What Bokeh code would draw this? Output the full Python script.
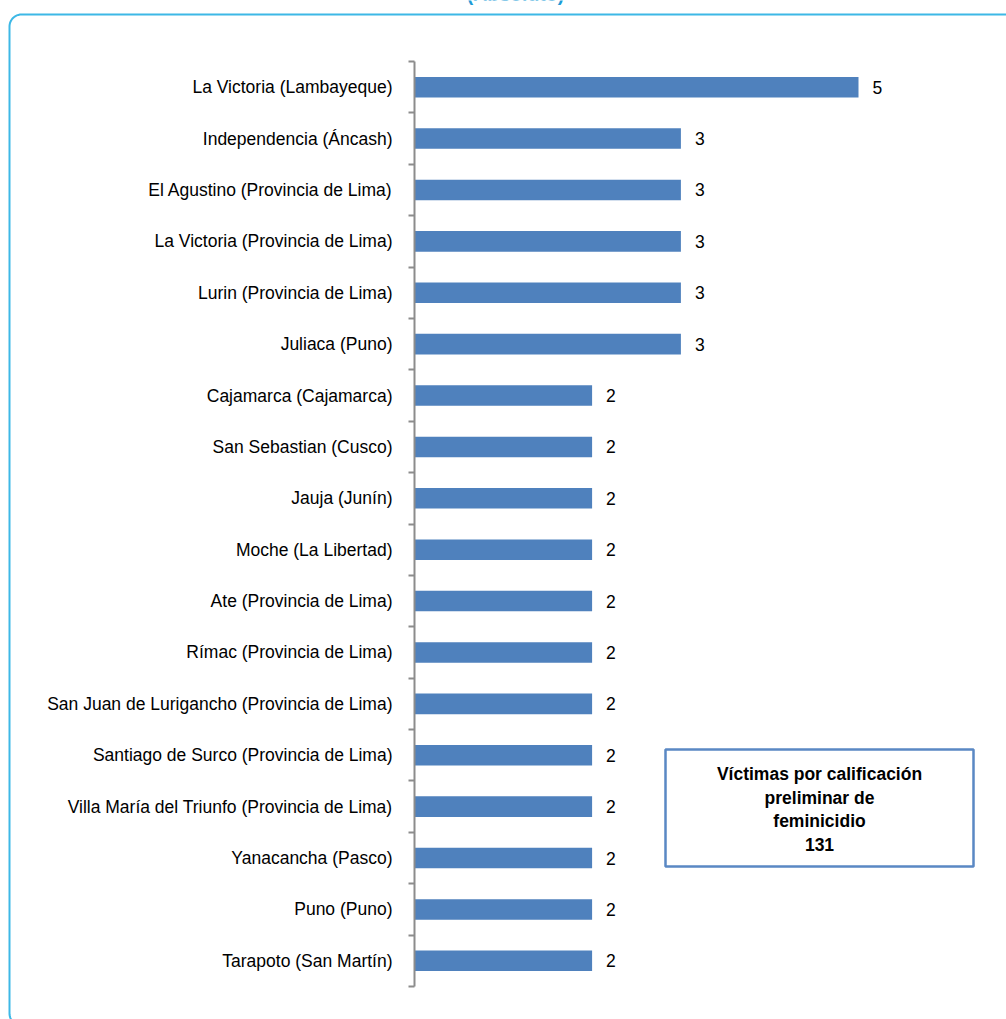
import math
from bokeh.plotting import figure
from bokeh.models import Range1d, LinearAxis, FixedTicker, BoxAnnotation, Label, ColumnDataSource
from bokeh.core.properties import value
from bokeh.embed import file_html
from bokeh.resources import INLINE

categories = [
    "La Victoria (Lambayeque)",
    "Independencia (Áncash)",
    "El Agustino (Provincia de Lima)",
    "La Victoria (Provincia de Lima)",
    "Lurin (Provincia de Lima)",
    "Juliaca (Puno)",
    "Cajamarca (Cajamarca)",
    "San Sebastian (Cusco)",
    "Jauja (Junín)",
    "Moche (La Libertad)",
    "Ate (Provincia de Lima)",
    "Rímac (Provincia de Lima)",
    "San Juan de Lurigancho (Provincia de Lima)",
    "Santiago de Surco (Provincia de Lima)",
    "Villa María del Triunfo (Provincia de Lima)",
    "Yanacancha (Pasco)",
    "Puno (Puno)",
    "Tarapoto (San Martín)",
]
values = [5, 3, 3, 3, 3, 3, 2, 2, 2, 2, 2, 2, 2, 2, 2, 2, 2, 2]
title_text = "(Absoluto)"
note_text = "Víctimas por calificación\npreliminar de\nfeminicidio\n131"

FONT = "Liberation Sans"
W, H = 1006, 1019
n = len(categories)

# layout geometry (pixels): value axis origin and category band
AX_X, PX_PER_UNIT = 414, 88.8
TOP_Y, BOT_Y = 61, 986
PX_PER_CAT = (BOT_Y - TOP_Y) / n


def dx(px):
    return (px - AX_X) / PX_PER_UNIT


def dy(py):
    return (py - TOP_Y) / PX_PER_CAT


centers = [i + 0.5 for i in range(n)]
boundaries = list(range(n + 1))

src = ColumnDataSource(dict(y=centers, v=values, lbl=[str(v) for v in values]))

p = figure(width=W, height=H,
           x_range=Range1d(dx(0), dx(W)), y_range=Range1d(dy(H), dy(0)),
           x_axis_location=None, y_axis_location=None,
           toolbar_location=None, output_backend="svg",
           min_border=0)
p.outline_line_color = None
p.xgrid.visible = False
p.ygrid.visible = False
p.background_fill_color = "white"
p.border_fill_color = "white"

# outer rounded frame; its right and bottom sides run off the page
FL, FT, FB, FR, RAD = 9, 14, 1025, W + 20, 12
bx, by = [FR], [FT]
for k in range(13):
    a = math.pi / 2 + k * (math.pi / 2) / 12
    bx.append(FL + RAD + RAD * math.cos(a)); by.append(FT + RAD - RAD * math.sin(a))
for k in range(13):
    a = math.pi + k * (math.pi / 2) / 12
    bx.append(FL + RAD + RAD * math.cos(a)); by.append(FB - RAD - RAD * math.sin(a))
bx.append(FR); by.append(FB)
p.line([dx(v) for v in bx], [dy(v) for v in by], line_color="#3db8e6", line_width=2)

p.hbar(y="y", left=0, right="v", height=0.4, source=src,
       fill_color="#4f81bd", line_color=None)
p.text(x="v", y="y", text="lbl", x_offset=14, source=src,
       text_align="left", text_baseline="middle",
       text_font=value(FONT), text_font_size="17.5px", text_color="#000000")

ax = LinearAxis(fixed_location=0, bounds=(0, n),
                ticker=FixedTicker(ticks=centers, minor_ticks=boundaries),
                major_label_overrides={c: cat for c, cat in zip(centers, categories)})
ax.axis_line_color = "#8c8c8c"
ax.axis_line_width = 2
ax.major_tick_out = 0
ax.major_tick_in = 0
ax.minor_tick_out = 6
ax.minor_tick_in = 0
ax.minor_tick_line_color = "#8c8c8c"
ax.minor_tick_line_width = 2
ax.major_label_standoff = 16
ax.major_label_text_font = FONT
ax.major_label_text_font_size = "17.5px"
ax.major_label_text_color = "#000000"
p.add_layout(ax, "left")

# note box
p.add_layout(BoxAnnotation(left=dx(665), right=dx(973), top=dy(749), bottom=dy(866),
                           fill_color="white", fill_alpha=1.0,
                           line_color="#5a88c4", line_alpha=1.0, line_width=2.5))
p.add_layout(Label(x=dx(819), y=dy(809), text=note_text,
                   text_align="center", text_baseline="middle",
                   text_font=FONT, text_font_size="17.5px", text_font_style="bold",
                   text_line_height=1.19, text_color="#000000"))
p.add_layout(Label(x=dx(515), y=dy(4), text=title_text,
                   text_align="center", text_baseline="bottom",
                   text_font=FONT, text_font_size="19.5px", text_font_style="bold",
                   text_color="#1e9ad6"))

open("out.html", "w").write(file_html(p, INLINE))
